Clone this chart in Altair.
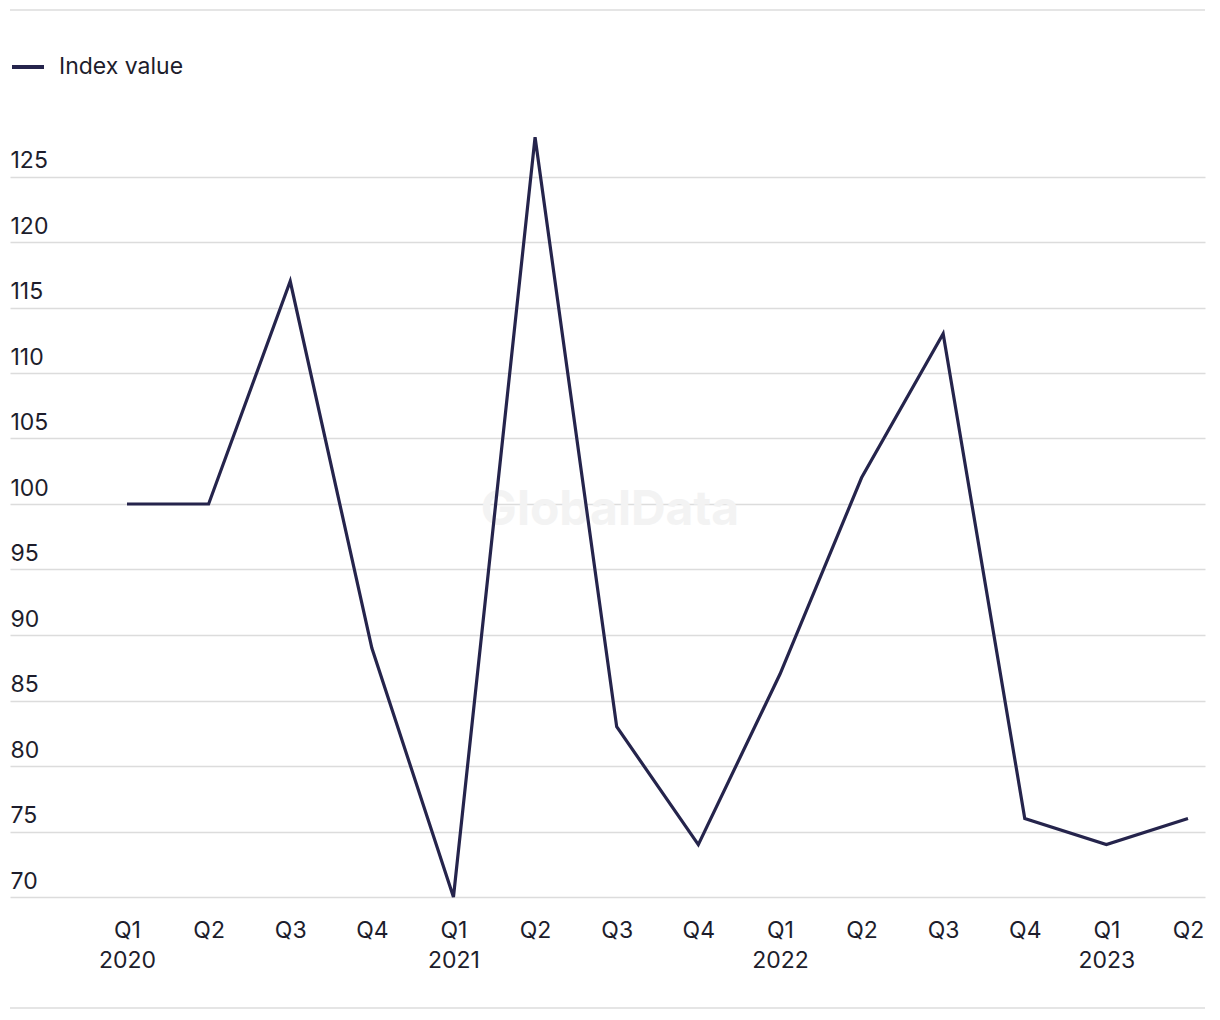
import json
import altair as alt
import pandas as pd

quarters = ["Q1", "Q2", "Q3", "Q4", "Q1", "Q2", "Q3", "Q4", "Q1", "Q2", "Q3", "Q4", "Q1", "Q2"]
years = ["2020", "2020", "2020", "2020", "2021", "2021", "2021", "2021",
         "2022", "2022", "2022", "2022", "2023", "2023"]
values = [100, 100, 117, 89, 70, 128, 83, 74, 87, 102, 113, 76, 74, 76]
y_ticks = [70, 75, 80, 85, 90, 95, 100, 105, 110, 115, 120, 125]
series_name = "Index value"

FONT = "Inter"
TEXT = "#1d1d2c"
LINE = "#25244c"
GRID = "#dcdcdc"

n = len(values)
df = pd.DataFrame({
    "idx": list(range(n)),
    "quarter": quarters,
    "year": years,
    "value": values,
    "series": [series_name] * n,
})

# tick labels: quarter, plus year on a second line for Q1
tick_labels = [[q, y] if q == "Q1" else q for q, y in zip(quarters, years)]
label_expr = json.dumps(tick_labels) + "[datum.value]"

W, H = 1195, 786
step = (1188 - 127) / (n - 1)
x_lo = -117 / step
x_hi = x_lo + W / step

line = alt.Chart(df).mark_line(strokeWidth=3.2, strokeJoin="miter").encode(
    x=alt.X(
        "idx:Q",
        scale=alt.Scale(domain=[x_lo, x_hi], nice=False, zero=False),
        axis=alt.Axis(
            title=None,
            values=list(range(n)),
            domain=False,
            ticks=False,
            tickSize=0,
            grid=False,
            labelAngle=0,
            labelPadding=22,
            labelFont=FONT,
            labelFontSize=23,
            labelColor=TEXT,
            labelLineHeight=30,
            labelBaseline="top",
            labelFlush=False,
            labelOverlap=False,
            labelExpr=label_expr,
        ),
    ),
    y=alt.Y(
        "value:Q",
        scale=alt.Scale(domain=[70, 130], nice=False, zero=False),
        axis=alt.Axis(
            title=None,
            values=y_ticks,
            domain=False,
            ticks=False,
            tickSize=0,
            labelPadding=0,
            labelAlign="left",
            labelBaseline="alphabetic",
            labelOffset=-9,
            labelFont=FONT,
            labelFontSize=23,
            labelColor=TEXT,
            gridColor=GRID,
            gridWidth=1.5,
        ),
    ),
    color=alt.Color(
        "series:N",
        scale=alt.Scale(range=[LINE]),
        legend=alt.Legend(
            title=None,
            orient="none",
            legendX=0,
            legendY=-62,
            symbolType="stroke",
            symbolSize=1024,
            symbolStrokeWidth=4,
            labelFont=FONT,
            labelFontSize=23,
            labelColor=TEXT,
            labelOffset=13,
        ),
    ),
)

watermark = alt.Chart(pd.DataFrame({"t": ["GlobalData"]})).mark_text(
    font=FONT, fontSize=48, fontWeight="bold", color="#f3f3f3", align="center", baseline="middle"
).encode(x=alt.value(600), y=alt.value(400), text="t:N")

top_rule = alt.Chart(pd.DataFrame({"k": ["top"]})).mark_rule(color=GRID, strokeWidth=1.5).encode(
    x=alt.value(0), x2=alt.value(W), y=alt.value(-101)
)
bottom_rule = alt.Chart(pd.DataFrame({"k": ["bottom"]})).mark_rule(color=GRID, strokeWidth=1.5).encode(
    x=alt.value(0), x2=alt.value(W), y=alt.value(897)
)

chart = alt.layer(top_rule, bottom_rule, watermark, line).properties(
    width=W,
    height=H,
    background="white",
    autosize=alt.AutoSizeParams(type="none"),
    padding={"left": 2, "top": 103, "right": 5, "bottom": 116},
).configure_view(stroke=None)

chart.save("out.html", embed_options={"renderer": "svg", "actions": False})
